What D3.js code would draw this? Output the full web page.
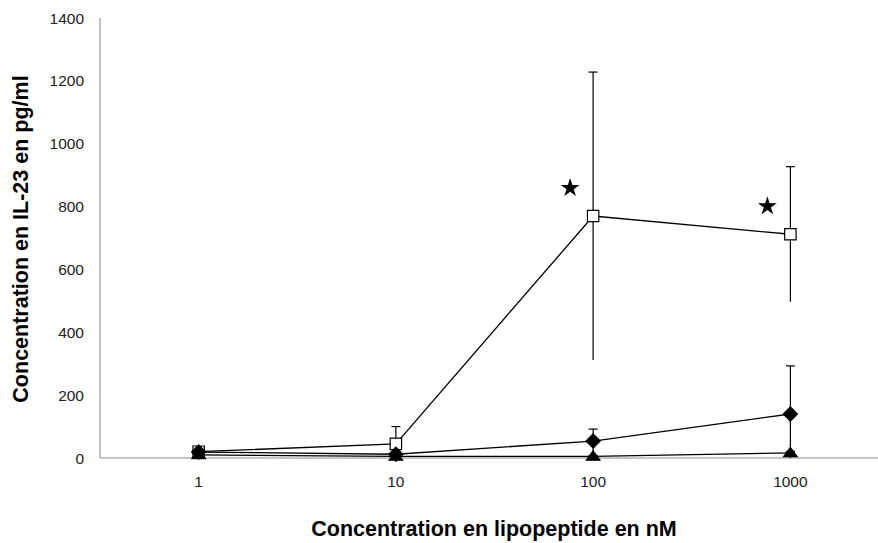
<!DOCTYPE html>
<html><head><meta charset="utf-8">
<script src="https://cdn.jsdelivr.net/npm/d3@7"></script>
<style>body{margin:0;background:#fff}svg{display:block}</style>
</head><body>
<svg id="c" width="878" height="543"></svg>
<script>
const categories = ["1", "10", "100", "1000"];
const yTicks = [0, 200, 400, 600, 800, 1000, 1200, 1400];
const squareValues = [20, 45, 770, 712];
const squareErrors = [15, 55, 458, 215];
const diamondValues = [19, 12, 54, 140];
const diamondErrors = [10, 5, 38, 153];
const triangleValues = [10, 5, 5, 16];
const triangleErrors = [5, 3, 3, 5];
const significant = [false, false, true, true];

const svg = d3.select("#c");
const x = d3.scalePoint().domain(categories).range([100, 889]).padding(0.5);
const y = d3.scaleLinear().domain([0, 1400]).range([458, 18]);
const font = "Liberation Sans, Arial, sans-serif";

svg.append("line").attr("x1", 100).attr("x2", 100).attr("y1", y(1400)).attr("y2", y(0)).attr("stroke", "#8a8a8a").attr("stroke-width", 1);
svg.append("line").attr("x1", 100).attr("x2", 878).attr("y1", y(0)).attr("y2", y(0)).attr("stroke", "#8a8a8a").attr("stroke-width", 1);

svg.selectAll(".yt").data(yTicks).join("text")
  .attr("x", 84).attr("y", d => y(d) + 5.5).attr("text-anchor", "end")
  .attr("font-family", font).attr("font-size", 15.5).attr("fill", "#222").text(d => d);
svg.selectAll(".xt").data(categories).join("text")
  .attr("x", d => x(d)).attr("y", 487).attr("text-anchor", "middle")
  .attr("font-family", font).attr("font-size", 15.5).attr("fill", "#222").text(d => d);

svg.append("text").attr("transform", `translate(28,239) rotate(-90)`).attr("text-anchor", "middle")
  .attr("font-family", font).attr("font-size", 21.5).attr("font-weight", "bold").text("Concentration en IL-23 en pg/ml");
svg.append("text").attr("x", 494).attr("y", 536).attr("text-anchor", "middle")
  .attr("font-family", font).attr("font-size", 21.5).attr("font-weight", "bold").text("Concentration en lipopeptide en nM");

const diamond = {draw(ctx, size) { const r = Math.sqrt(size / 2); ctx.moveTo(0, -r); ctx.lineTo(r, 0); ctx.lineTo(0, r); ctx.lineTo(-r, 0); ctx.closePath(); }};
const triangle = {draw(ctx, size) { const h = Math.sqrt(size) * 0.85, w = Math.sqrt(size) * 0.62; ctx.moveTo(0, -h * 0.6); ctx.lineTo(w, h * 0.4); ctx.lineTo(-w, h * 0.4); ctx.closePath(); }};

const series = [
  {v: squareValues, e: squareErrors, sym: d3.symbolSquare, size: 130, fill: "#fff"},
  {v: triangleValues, e: triangleErrors, sym: triangle, size: 120, fill: "#000"},
  {v: diamondValues, e: diamondErrors, sym: diamond, size: 100, fill: "#000"}
];

const line = d3.line().x((d, i) => x(categories[i])).y(d => y(d));

series.forEach(s => {
  const g = svg.append("g");
  s.v.forEach((v, i) => {
    const cx = x(categories[i]);
    const top = y(v + s.e[i]);
    const bot = y(Math.max(0, v - s.e[i]));
    g.append("line").attr("x1", cx).attr("x2", cx).attr("y1", top).attr("y2", bot).attr("stroke", "#000").attr("stroke-width", 1.2);
    g.append("line").attr("x1", cx - 4.5).attr("x2", cx + 4.5).attr("y1", top).attr("y2", top).attr("stroke", "#000").attr("stroke-width", 1.2);
  });
});
series.forEach(s => {
  const g = svg.append("g");
  g.append("path").attr("d", line(s.v)).attr("fill", "none").attr("stroke", "#000").attr("stroke-width", 1.3);
  g.selectAll(".m").data(s.v).join("path")
    .attr("transform", (d, i) => `translate(${x(categories[i])},${y(d)})`)
    .attr("d", d3.symbol().type(s.sym).size(s.size))
    .attr("fill", s.fill).attr("stroke", "#000").attr("stroke-width", 1.2);
});

svg.selectAll(".star").data(categories.filter((c, i) => significant[i])).join("path")
  .attr("transform", c => `translate(${x(c) - 23},${y(squareValues[categories.indexOf(c)]) - 28})`)
  .attr("d", d3.symbol().type(d3.symbolStar).size(110)).attr("fill", "#000");
</script>
</body></html>
